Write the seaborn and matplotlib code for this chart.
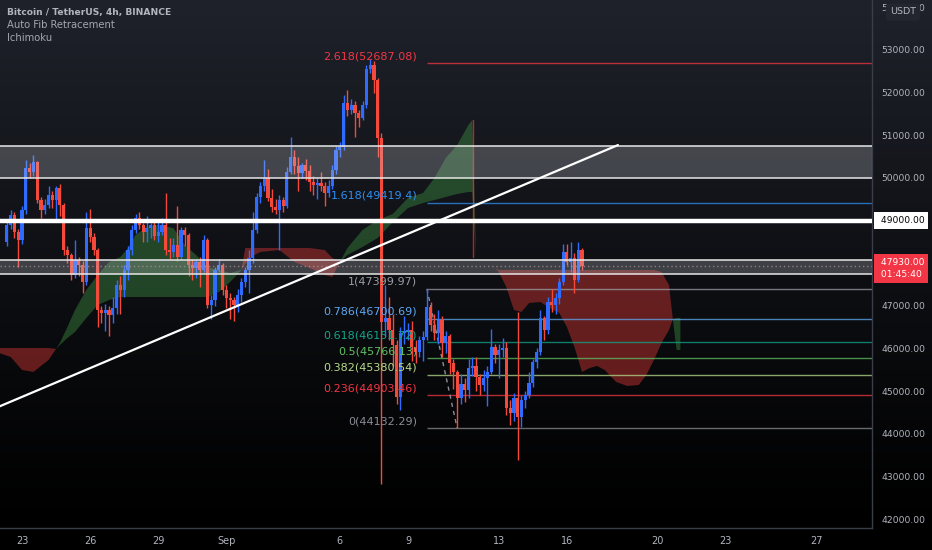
import pandas as pd
import numpy as np
import matplotlib
matplotlib.use("Agg")
import matplotlib.pyplot as plt
import matplotlib.dates as mdates
import seaborn as sns

# --- candles (BTC/USDT 4h) ---
closes = [48900, 49130, 48730, 48540, 49250, 50230, 50140, 50370, 49480, 49250,
          49370, 49600, 49480, 49760, 49370, 48310, 48190, 47720, 48080, 47960,
          47560, 48820, 48610, 48310, 46900, 46830, 46900, 46790, 46950, 47490,
          47370, 47840, 48310, 48780, 49060, 48900, 48730, 48820, 48900, 48640,
          48730, 48900, 48310, 48260, 48430, 48140, 48780, 48660, 47960, 47890,
          48030, 47840, 48540, 47020, 47140, 47840, 47960, 47370, 47180, 47140,
          47020, 47250, 47560, 47840, 48120, 48780, 49550, 49810, 50000, 49530,
          49320, 49250, 49480, 49340, 50140, 50490, 50280, 50120, 50300, 50160,
          49900, 49830, 49880, 49810, 49640, 49810, 50190, 50650, 50720, 51760,
          51590, 51710, 51520, 51400, 51710, 52550, 52640, 52300, 50940, 46620,
          46720, 46430, 46080, 44860, 46360, 46390, 46430, 46030, 45920, 46200,
          46270, 46970, 46550, 46360, 46670, 46130, 46290, 45660, 45450, 44840,
          45170, 45030, 45540, 45590, 45330, 45140, 45310, 45450, 46030, 45850,
          45970, 46010, 44600, 44490, 44840, 44390, 44790, 44910, 45190, 45680,
          45920, 46720, 46430, 47090, 47020, 47180, 47560, 48260, 48030, 48120,
          47610, 48310, 47930]
highs = [49000, 49250, 49200, 48800, 49350, 50420, 50350, 50540, 50400, 49550,
         49500, 49800, 49700, 49800, 49850, 49400, 48400, 48250, 48550, 48150,
         48050, 49200, 49280, 48700, 48350, 47000, 47050, 47000, 47200, 47600,
         47700, 47950, 48400, 48900, 49150, 49200, 48950, 49100, 48950, 49000,
         49000, 49050, 49640, 48600, 48600, 49350, 48850, 48850, 48700, 48100,
         48100, 48150, 48650, 48600, 47250, 47900, 48100, 48000, 47500, 47300,
         47200, 47400, 47650, 47900, 48300, 49200, 49650, 49900, 50420, 50200,
         49750, 49500, 49600, 49550, 50250, 50960, 50650, 50500, 50350, 50450,
         50300, 50050, 50000, 50150, 49900, 49950, 50300, 50750, 50850, 51950,
         52050, 51850, 51800, 51600, 51800, 52650, 52800, 52750, 52350, 51050,
         47500, 47200, 46800, 46200, 46500, 46750, 46600, 46650, 46200, 46300,
         46400, 47400, 47100, 46800, 46900, 46750, 46400, 46350, 45750, 45500,
         45400, 45300, 45750, 45800, 45800, 45400, 45500, 45600, 46450, 46100,
         46100, 46250, 46150, 44800, 44950, 46850, 44900, 45000, 45450, 45750,
         46000, 46900, 46750, 47200, 47400, 47300, 47650, 48450, 48450, 48500,
         48250, 48500, 48350]
lows = [48400, 48800, 48600, 47900, 48450, 49150, 50000, 50050, 49400, 49050,
        49150, 49300, 49300, 49000, 49100, 48200, 48000, 47600, 47650, 47700,
        47300, 47500, 48500, 48200, 46500, 46600, 46400, 46300, 46600, 46800,
        46800, 47200, 47600, 48200, 48700, 48800, 48500, 48500, 48600, 48550,
        48500, 48650, 48200, 48100, 48150, 48050, 48100, 48400, 47700, 47600,
        47650, 47450, 47800, 46950, 46700, 47000, 47800, 47250, 46950, 46700,
        46650, 46850, 47100, 47450, 47300, 48000, 48700, 49400, 49700, 49450,
        49200, 49150, 48300, 49200, 49300, 50100, 50100, 49700, 50000, 49950,
        49700, 49600, 49500, 49700, 49350, 49550, 49750, 50100, 50500, 50650,
        51450, 51500, 50950, 51200, 51350, 51650, 52450, 52000, 50500, 42830,
        46300, 46200, 45600, 44700, 44560, 46100, 46200, 45700, 45650, 45800,
        45700, 46200, 46400, 46200, 46100, 45800, 45900, 45400, 45050, 44132,
        44700, 44750, 44850, 45350, 45000, 44900, 45000, 44650, 45400, 45650,
        45300, 45800, 44450, 44200, 44300, 43390, 44150, 44600, 44850, 45100,
        45550, 45850, 46200, 46350, 46850, 46800, 47050, 47500, 47950, 47800,
        47300, 47550, 47850]
first_open = 48500
first_bar = "2021-08-22 08:00"

# --- Ichimoku cloud (bar offset from first candle, leading span A / B) ---
cloud_bar = [-2, 1, 4, 7, 10, 11, 13, 14, 16, 18, 21, 24, 27, 30, 32, 34, 37, 40, 44,
             47, 50, 53, 56, 59, 62, 63, 65, 67, 72, 76, 80, 84, 86, 88, 90, 94, 98,
             102, 106, 110, 113, 116, 119, 122, 123, 124, 129, 130, 132, 134, 136,
             138, 141, 143, 146, 148, 150, 152, 154, 156, 158, 161, 164, 167, 169,
             171, 173, 175, 176, 177, 178]
span_a = [45894, 45800, 45496, 45449, 45660, 45730, 45990, 46129, 46504, 46903, 47372,
          47724, 48028, 48145, 48356, 48661, 48849, 48896, 48825, 48427, 48192, 47911,
          47841, 47770, 47841, 47981, 48169, 48263, 48309, 48028, 47887, 47724, 47676,
          48028, 48356, 48779, 49013, 49154, 49529, 49646, 49998, 50467, 50772, 51241,
          51358, 48145, 47887, 47794, 47442, 46903, 46856, 47067, 47090, 46973, 46833,
          46504, 46035, 45449, 45542, 45589, 45496, 45214, 45120, 45144, 45378, 45730,
          46129, 46434, 46690, 46715, 46715]
span_b = [46011, 46011, 46011, 46011, 46011, 46011, 45990, 46082, 46246, 46387, 46715,
          47020, 47137, 47207, 47207, 47207, 47207, 47207, 47207, 47207, 47207, 47207,
          47324, 47559, 47841, 48356, 48356, 48356, 48356, 48356, 48356, 48310, 48122,
          48028, 48193, 48380, 48591, 48966, 49294, 49412, 49482, 49552, 49623, 49670,
          49670, 48145, 47887, 47841, 47841, 47841, 47841, 47841, 47841, 47841, 47841,
          47841, 47841, 47841, 47841, 47841, 47841, 47841, 47841, 47841, 47841, 47841,
          47794, 47489, 46690, 45965, 45965]

# --- auto fib retracement ---
fib_ratios = [0, 0.236, 0.382, 0.5, 0.618, 0.786, 1, 1.618, 2.618]
fib_colors = ["#8a8d96", "#f23645", "#b7d98b", "#5fbf63", "#12a58a",
              "#5ea8f2", "#9a9da6", "#2d8ff0", "#f23645"]
fib_low, fib_high = 44132.29, 47399.97
fib_low_bar, fib_high_bar = 119, 111

# --- drawings ---
zones = [(50000, 50750), (47750, 48075)]
key_level = 49000
trend_t = ["2021-08-22 00:00", "2021-09-18 06:00"]
trend_p = [44640, 50770]
last_price = 47930
countdown = "01:45:40"

date_ticks = ["2021-08-23", "2021-08-26", "2021-08-29", "2021-09-01", "2021-09-06",
              "2021-09-09", "2021-09-13", "2021-09-16", "2021-09-20", "2021-09-23",
              "2021-09-27"]
date_labels = ["23", "26", "29", "Sep", "6", "9", "13", "16", "20", "23", "27"]
price_ticks = list(range(42000, 54001, 1000))
hidden_ticks = [48000, 49000]   # covered by the price badges
view = ("2021-08-22 00:42", "2021-09-29 10:34")

sns.set_theme(style="dark")
plt.rcParams["font.family"] = ["DejaVu Sans"]

df = pd.DataFrame({"close": closes, "high": highs, "low": lows})
df["open"] = [first_open] + closes[:-1]
df["time"] = pd.date_range(first_bar, periods=len(df), freq="4h")
df["x"] = mdates.date2num(df["time"])
up = df["close"] >= df["open"]
up_col, dn_col = "#2f6bff", "#f44a3c"
cols = np.where(up, up_col, dn_col)

fig = plt.figure(figsize=(9.32, 5.5), dpi=100)
fig.patch.set_facecolor("black")

# gradient background
bg = fig.add_axes([0, 0, 1, 1], zorder=-10)
grad = np.linspace(0, 1, 256)[:, None]
top = np.array([31, 34, 43]) / 255
img = top[None, None, :] * (1 - grad[:, :, None]) ** 1.1
bg.imshow(img, aspect="auto", extent=[0, 1, 22 / 550, 1])
bg.set_xlim(0, 1)
bg.set_ylim(0, 1)
bg.axis("off")

ax = fig.add_axes([0, 22 / 550, 872 / 932, 528 / 550])
ax.set_facecolor("none")

# cloud
ct = mdates.date2num(pd.Timestamp(first_bar) + pd.to_timedelta(np.array(cloud_bar) * 4, unit="h"))
a = np.array(span_a, float)
b = np.array(span_b, float)
ax.fill_between(ct, a, b, where=a >= b, interpolate=True, color="#43a047", alpha=0.38, lw=0, zorder=1)
ax.fill_between(ct, a, b, where=a < b, interpolate=True, color="#e53935", alpha=0.42, lw=0, zorder=1)
i = cloud_bar.index(123)
ax.plot([ct[i] + 0.03, ct[i] + 0.03], [span_a[i], span_a[i + 1]], color="#e53935", lw=1, alpha=0.7, zorder=1)

# fib levels
x_hi = df["x"][fib_high_bar]
x_lo = df["x"][fib_low_bar]
xmax = mdates.date2num(pd.Timestamp(view[1]))
for r, c in zip(fib_ratios, fib_colors):
    lvl = fib_low + r * (fib_high - fib_low)
    ax.hlines(lvl, x_hi, xmax, color=c, lw=1, alpha=0.75, zorder=2)
    txt = f"{lvl:.2f}".rstrip("0").rstrip(".")
    ax.annotate(f"{r:g}({txt})", xy=(x_hi, lvl), xytext=(-7, 5), textcoords="offset points",
                ha="right", va="center", color=c, fontsize=8, zorder=7)
sns.lineplot(x=[x_hi, x_lo], y=[fib_high, fib_low], ax=ax, color="#8a8d96",
             linestyle=(0, (3, 3)), lw=1, zorder=2)

# candles
ax.vlines(df["x"], df["low"], df["high"], colors=cols, lw=1, zorder=3)
body = (df["close"] - df["open"]).abs().clip(lower=40)
ax.bar(df["x"], body, bottom=df[["open", "close"]].min(axis=1), width=0.14,
       color=cols, lw=0, zorder=3)

# zones and lines
for lo, hi in zones:
    ax.axhspan(lo, hi, color="#d1d4dc", alpha=0.25, lw=0, zorder=4)
    ax.axhline(lo, color="#e6e6e6", lw=1.3, alpha=0.85, zorder=5)
    ax.axhline(hi, color="#e6e6e6", lw=1.3, alpha=0.85, zorder=5)
ax.axhline(key_level, color="white", lw=3.2, zorder=5)
ax.axhline(last_price, color="#b09a9c", lw=1, ls=(0, (1, 2)), alpha=0.7, zorder=5)
sns.lineplot(x=mdates.date2num(pd.to_datetime(trend_t)), y=trend_p, ax=ax,
             color="white", lw=1.6, zorder=6)

ax.set_xlim(mdates.date2num(pd.Timestamp(view[0])), xmax)
ax.set_ylim(41790, 54172)
ax.grid(False)

ax.set_xticks(mdates.date2num(pd.to_datetime(date_ticks)))
ax.set_xticklabels(date_labels)
ax.yaxis.tick_right()
ax.set_yticks(price_ticks)
ax.set_yticklabels(["" if p in hidden_ticks else f"{p:.2f}" for p in price_ticks])
ax.tick_params(axis="x", colors="#b2b5be", labelsize=7, length=0, pad=6)
ax.tick_params(axis="y", colors="#b2b5be", labelsize=6.6, length=0, pad=6.5)
for s in ["top", "left"]:
    ax.spines[s].set_visible(False)
for s in ["right", "bottom"]:
    ax.spines[s].set_color("#3a3e49")
    ax.spines[s].set_linewidth(1)

# price scale badges
ax.annotate(" " + f"{key_level:.2f}", xy=(1, key_level), xycoords=("axes fraction", "data"),
            xytext=(4, 0), textcoords="offset points", va="center", ha="left",
            fontsize=6.6, color="black", annotation_clip=False,
            bbox=dict(boxstyle="square,pad=0.4", fc="white", ec="none"))
ax.annotate(" " + f"{last_price:.2f}\n" + " " + countdown, xy=(1, last_price),
            xycoords=("axes fraction", "data"), xytext=(4, 6), textcoords="offset points",
            va="top", ha="left", fontsize=6.6, color="white", linespacing=1.45,
            annotation_clip=False,
            bbox=dict(boxstyle="square,pad=0.4", fc="#f23645", ec="none"))
fig.text(903 / 932, 1 - 12 / 550, "USDT", ha="center", va="center", fontsize=6.8,
         color="#b2b5be", bbox=dict(boxstyle="round,pad=0.45", fc="#23262f", ec="none"))

# legend
fig.text(7 / 932, 1 - 12 / 550, "Bitcoin / TetherUS, 4h, BINANCE", fontsize=6.6,
         color="#b2b5be", va="center", weight="bold")
fig.text(7 / 932, 1 - 25 / 550, "Auto Fib Retracement", fontsize=7.2, color="#a3a6af", va="center")
fig.text(7 / 932, 1 - 38 / 550, "Ichimoku", fontsize=7.2, color="#a3a6af", va="center")

fig.savefig("out.png", dpi=100, facecolor="black")
